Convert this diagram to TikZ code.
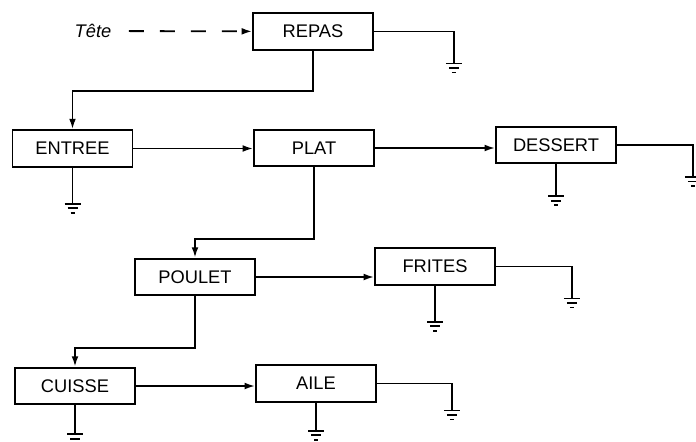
\documentclass[tikz,border=0pt]{standalone}
\usepackage{fontspec}
\setmainfont{Liberation Sans}
\usepackage{tikz}
\usetikzlibrary{arrows, arrows.meta, positioning, calc}

\begin{document}
\begin{tikzpicture}[
    x=0.025cm, y=-0.025cm,
    line width=1.3pt,
    boite/.style={rectangle, draw, minimum width=3.0cm, minimum height=0.92cm, inner sep=2pt, font=\fontsize{13}{15}\selectfont},
    lien/.style={-{Latex[length=2.6mm, width=1.7mm]}},
    terre/.pic={\draw (-8,0) -- (8,0) (-5,4.5) -- (5,4.5) (-2,9) -- (2,9);}
]
    \useasboundingbox (0,0) rectangle (696,441);

    \node (tete) at (93,31) {\fontsize{13}{15}\selectfont\itshape Tête};
    \node (repas) [boite] at (313,31.5) {REPAS};
    \node (entree) [boite] at (72.5,148.5) {ENTREE};
    \node (plat) [boite] at (314,148) {PLAT};
    \node (dessert) [boite] at (556,145) {DESSERT};
    \node (poulet) [boite] at (195,277) {POULET};
    \node (frites) [boite] at (435,266.5) {FRITES};
    \node (cuisse) [boite] at (75,386) {CUISSE};
    \node (aile) [boite] at (316,383.5) {AILE};

    \draw[lien, dash pattern=on 0.375cm off 0.4cm, shorten <=0.3cm] (tete) -- (repas);

    \draw[lien] (repas.south) -- ++(0,40) -| (entree.north);
    \draw[lien] (entree) -- (entree -| plat.west);
    \draw[lien] (plat.east) -- (plat.east -| dessert.west);
    \draw[lien] (plat.south) -- ++(0,72) -| (poulet.north);
    \draw[lien] (poulet.east) -- (poulet.east -| frites.west);
    \draw[lien] (poulet.south) -- ++(0,52) -| (cuisse.north);
    \draw[lien] (cuisse.east) -- (cuisse.east -| aile.west);

    \draw (repas.east) -- ++(80,0) -- ++(0,32) pic {terre};
    \draw (entree.south) -- ++(0,36) pic {terre};
    \draw (dessert.east) -- ++(76,0) -- ++(0,32) pic {terre};
    \draw (dessert.south) -- ++(0,32) pic {terre};
    \draw (frites.east) -- ++(76,0) -- ++(0,32) pic {terre};
    \draw (frites.south) -- ++(0,36) pic {terre};
    \draw (cuisse.south) -- ++(0,29) pic {terre};
    \draw (aile.east) -- ++(75,0) -- ++(0,27) pic {terre};
    \draw (aile.south) -- ++(0,28) pic {terre};
\end{tikzpicture}
\end{document}
